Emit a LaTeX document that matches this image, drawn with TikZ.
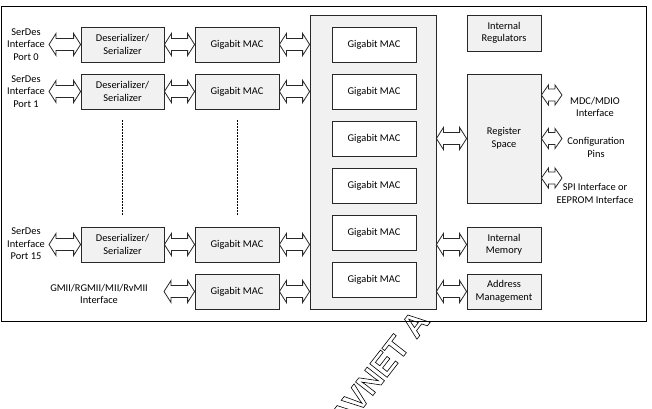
\documentclass[tikz,border=0pt]{standalone}
\usepackage{fontspec}
\setmainfont{Carlito}
\newfontfamily\wmfont{Liberation Sans}
\usetikzlibrary{calc}
\definecolor{boxgray}{RGB}{241,241,241}
\definecolor{edge}{RGB}{40,40,40}
\newcommand\outlinetext[1]{\special{pdf:literal direct 1 Tr 0.6 w}#1\special{pdf:literal direct 0 Tr}}
\newcommand\fatarr[3][11]{%
  \path[draw=edge, fill=white, line width=0.8pt, line join=miter]
    let \p1=#2, \p2=#3 in
    (\x1,\y1) -- (\x1+7pt,\y1+#1pt) -- (\x1+7pt,\y1+6pt) -- (\x2-7pt,\y1+6pt)
    -- (\x2-7pt,\y1+#1pt) -- (\x2,\y1) -- (\x2-7pt,\y1-#1pt) -- (\x2-7pt,\y1-6pt)
    -- (\x1+7pt,\y1-6pt) -- (\x1+7pt,\y1-#1pt) -- cycle;}
\begin{document}
\begin{tikzpicture}[x=1pt,y=-1pt,
  every node/.style={font=\fontsize{10.4}{12.5}\selectfont, inner sep=0pt, align=center},
  box/.style={draw=edge, fill=boxgray, line width=0.8pt},
  dsbox/.style={box, minimum width=83pt, minimum height=35pt},
  macbox/.style={box, minimum width=84pt, minimum height=35pt},
  inmac/.style={box, fill=white, minimum width=84pt, minimum height=35pt},
  rbox/.style={box, minimum width=74pt},
  dotline/.style={draw=black, line width=0.8pt, dash pattern=on 2pt off 1pt}]
\useasboundingbox (0,0) rectangle (652,408);
% frame
\draw[line width=0.9pt, fill=white] (1,6) rectangle (646,321);
% left column
\node[dsbox] (ds0) at (122.5,44.5) {Deserializer/\\Serializer};
\node[dsbox] (ds1) at (122.5,91.5) {Deserializer/\\Serializer};
\node[dsbox] (ds15) at (122.5,244.5) {Deserializer/\\Serializer};
\node[macbox] (mac0) at (237,44.5) {Gigabit MAC};
\node[macbox] (mac1) at (237,91.5) {Gigabit MAC};
\node[macbox] (mac15) at (237,244.5) {Gigabit MAC};
\node[macbox] (macg) at (237,291.5) {Gigabit MAC};
% dotted lines
\coordinate (d1a) at (122.3,120); \coordinate (d1b) at (122.3,215);
\coordinate (d2a) at (237.7,120); \coordinate (d2b) at (237.7,215);
\draw[dotline] (d1a) -- (d1b);
\draw[dotline] (d2a) -- (d2b);
% big block
\node[box, minimum width=126pt, minimum height=294pt] (big) at (373,162) {};
\foreach \i/\y in {1/44.5,2/91.5,3/138.5,4/185.5,5/232.5,6/279.5}
  \node[inmac] (im\i) at (374,\y) {Gigabit MAC};
% right blocks
\node[rbox, minimum height=36pt] (reg) at (504,33) {Internal\\Regulators};
\node[rbox, minimum height=129pt] (rs) at (504,138.5) {Register\\Space};
\node[rbox, minimum height=35pt] (mem) at (504,244.5) {Internal\\Memory};
\node[rbox, minimum height=35pt] (addr) at (504,291.5) {Address\\Management};
% labels
\node (l0) at (26,44.5) {SerDes\\Interface\\Port 0};
\node (l1) at (26,91.5) {SerDes\\Interface\\Port 1};
\node (l15) at (26,244) {SerDes\\Interface\\Port 15};
\node (lg) at (99,294) {GMII/RGMII/MII/RvMII\\Interface};
\node (lmdc) at (595,106.7) {MDC/MDIO\\Interface};
\node (lcfg) at (596,147.2) {Configuration\\Pins};
\node (lspi) at (595,193.3) {SPI Interface or\\EEPROM Interface};
% arrow end coordinates
\coordinate (a0) at (49,44.5);
\coordinate (a1) at (49,91.5);
\coordinate (a15) at (49,244.5);
\coordinate (ag) at (164,291.5);
\coordinate (m1) at (562,95);
\coordinate (m2) at (562,138.5);
\coordinate (m3) at (562,178);
% arrows
\fatarr{(a0)}{(ds0.west)}
\fatarr{(a1)}{(ds1.west)}
\fatarr{(a15)}{(ds15.west)}
\fatarr{(ds0.east)}{(mac0.west)}
\fatarr{(ds1.east)}{(mac1.west)}
\fatarr{(ds15.east)}{(mac15.west)}
\fatarr{(ag)}{(macg.west)}
\fatarr{(mac0.east)}{(big.west |- mac0.east)}
\fatarr{(mac1.east)}{(big.west |- mac1.east)}
\fatarr{(mac15.east)}{(big.west |- mac15.east)}
\fatarr{(macg.east)}{(big.west |- macg.east)}
\fatarr{(big.east |- rs.west)}{(rs.west)}
\fatarr{(big.east |- mem.west)}{(mem.west)}
\fatarr{(big.east |- addr.west)}{(addr.west)}
\fatarr[10]{(rs.east |- m1)}{(m1)}
\fatarr[10]{(rs.east |- m2)}{(m2)}
\fatarr[10]{(rs.east |- m3)}{(m3)}
% watermark
\begin{scope}
  \clip (300,312) rectangle (652,408);
  \node[rotate=52, font=\wmfont\bfseries\fontsize{32}{32}\selectfont] (wm) at (379.5,369.2)
    {\outlinetext{AVNET A}};
\end{scope}
\end{tikzpicture}
\end{document}
